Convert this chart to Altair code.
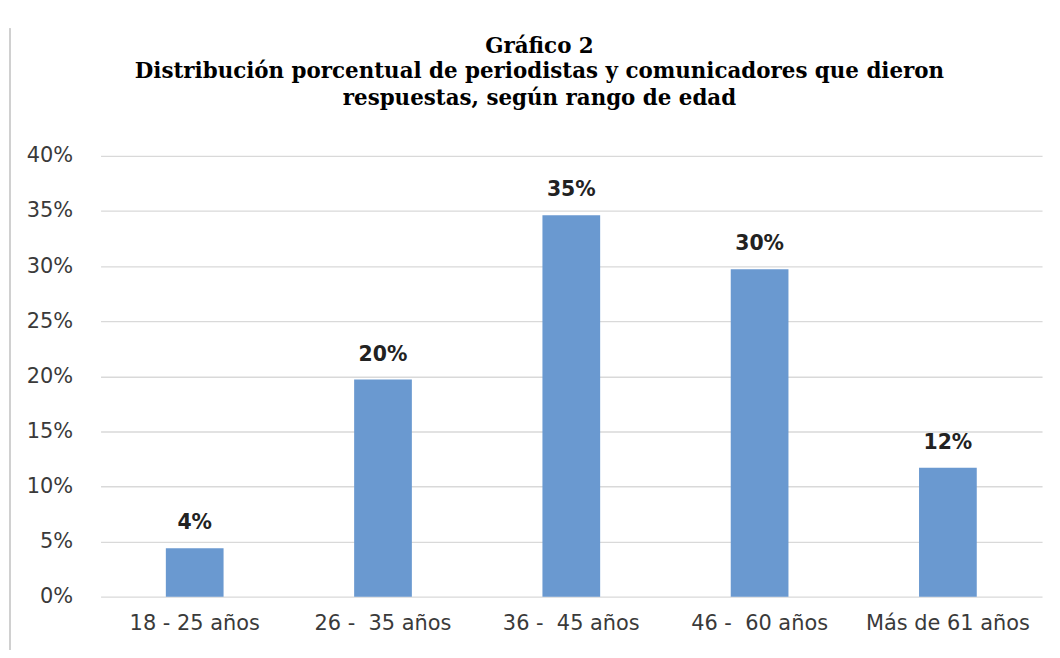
import altair as alt
import pandas as pd

categories = ["18 - 25 años", "26 -\u00a0 35 años", "36 -\u00a0 45 años", "46 -\u00a0 60 años", "Más de 61 años"]
values = [0.044, 0.197, 0.346, 0.297, 0.117]
labels = ["4%", "20%", "35%", "30%", "12%"]
title_lines = ["Gráfico 2",
               "Distribución porcentual de periodistas y comunicadores que dieron",
               "respuestas, según rango de edad"]
title_y = [-103, -78, -51]

df = pd.DataFrame({"cat": categories, "val": values, "lab": labels})
tdf = pd.DataFrame({"t": title_lines, "yy": title_y})

x = alt.X("cat:N", sort=categories, title=None,
          scale=alt.Scale(paddingInner=0.69, paddingOuter=0.345),
          axis=alt.Axis(labelAngle=0, labelFont="DejaVu Sans", labelFontSize=21,
                        labelColor="#3a3a3a", ticks=False, domain=False,
                        labelPadding=16))
y = alt.Y("val:Q", title=None,
          scale=alt.Scale(domain=[0, 0.4]),
          axis=alt.Axis(format=".0%", values=[0, 0.05, 0.1, 0.15, 0.2, 0.25, 0.3, 0.35, 0.4],
                        labelFont="DejaVu Sans", labelFontSize=21, labelColor="#3a3a3a",
                        ticks=False, domain=False, gridColor="#d9d9d9",
                        gridWidth=1.3, labelPadding=28))

bars = alt.Chart(df).mark_bar(color="#6a99d0", size=58).encode(x=x, y=y)
text = alt.Chart(df).mark_text(dy=-25, font="DejaVu Sans", fontSize=20.5, fontWeight="bold",
                               color="#222222").encode(x=x, y=y, text="lab:N")
border = alt.Chart(df).mark_rule(color="#d0d0d0", strokeWidth=1.5).encode(
    x=alt.value(-91), y=alt.value(-128), y2=alt.value(500))
title = alt.Chart(tdf).mark_text(font="DejaVu Serif", fontSize=21.5, fontWeight="bold",
                                 color="#000000", baseline="alphabetic", align="center").encode(
    x=alt.value(441), y=alt.Y("yy:Q", scale=None), text="t:N")

chart = alt.layer(border, title, bars, text).properties(
    width=946, height=443,
    autosize=alt.AutoSizeParams(type="none"),
    padding={"left": 93, "top": 147, "right": 10, "bottom": 52},
).configure_view(stroke=None)

chart.save("out.html", embed_options={"renderer": "svg", "actions": False})
